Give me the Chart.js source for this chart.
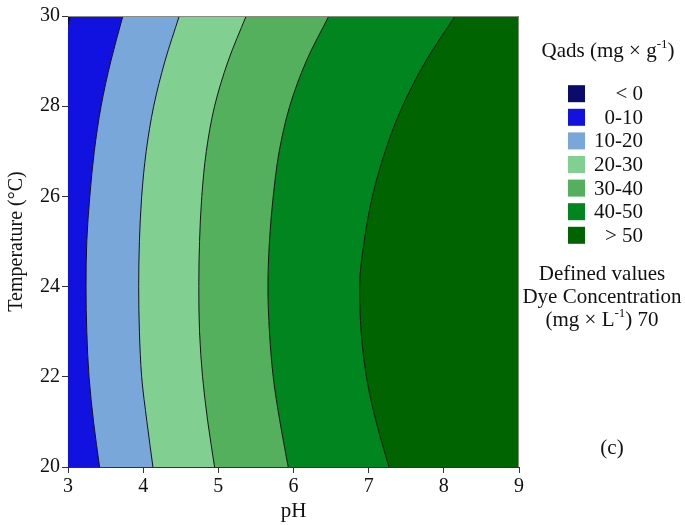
<!DOCTYPE html>
<html>
<head>
<meta charset="utf-8">
<script src="https://cdn.jsdelivr.net/npm/chart.js@4.4.1/dist/chart.umd.min.js"></script>
<style>
  html, body { margin: 0; padding: 0; background: #ffffff; }
  #wrap { width: 685px; height: 525px; }
</style>
</head>
<body>
<div id="wrap"><canvas id="c" width="685" height="525"></canvas></div>
<script>
// Temperature levels (°C) at which each iso-Qads contour is sampled
const tempLevels = [30, 29, 28, 27, 26, 25, 24, 23, 22, 21, 20];

// pH position of each contour line at the temperatures above
const contour10 = [3.73, 3.57, 3.44, 3.35, 3.29, 3.25, 3.24, 3.25, 3.28, 3.34, 3.42];
const contour20 = [4.48, 4.29, 4.14, 4.04, 3.98, 3.95, 3.94, 3.95, 3.98, 4.05, 4.13];
const contour30 = [5.37, 5.13, 4.95, 4.84, 4.78, 4.75, 4.74, 4.75, 4.79, 4.86, 4.95];
const contour40 = [6.47, 6.17, 5.95, 5.81, 5.73, 5.68, 5.66, 5.68, 5.73, 5.82, 5.93];
const contour50 = [8.15, 7.76, 7.45, 7.22, 7.05, 6.94, 6.88, 6.90, 6.97, 7.10, 7.27];

// The zero contour only clips the top-left corner
const cornerTemps = [30, 29.8];
const contour0 = [3.03, 3.00];

// Legend classes and their fill colours
const legendLabels = ['< 0', '0-10', '10-20', '20-30', '30-40', '40-50', '> 50'];
const bandColors = ['#0b0b6e', '#1212e0', '#7aa7da', '#82cf92', '#54b05c', '#00851f', '#006500'];

// Axis ticks
const phTicks = [3, 4, 5, 6, 7, 8, 9];
const tempTicks = [20, 22, 24, 26, 28, 30];

const PH_MIN = phTicks[0];
const PH_MAX = phTicks[phTicks.length - 1];

const SERIF = '"Liberation Serif", "Times New Roman", serif';

function toPoints(phs, temps) {
  return phs.map((ph, i) => ({ x: ph, y: temps[i] }));
}

function contourSet(phs, temps, fill, color, withLine) {
  return {
    data: toPoints(phs, temps),
    fill: fill,
    backgroundColor: color,
    borderColor: '#111111',
    borderWidth: withLine ? 1 : 0,
    pointRadius: 0,
    cubicInterpolationMode: 'monotone'
  };
}

// Frame on the top and right sides, plus the legend and side notes
const decorations = {
  id: 'decorations',
  afterDatasetsDraw(chart) {
    const { ctx, chartArea: a } = chart;
    ctx.save();
    ctx.strokeStyle = '#8a8a80';
    ctx.lineWidth = 1;
    ctx.beginPath();
    ctx.moveTo(a.left, a.top + 0.5);
    ctx.lineTo(a.right - 0.5, a.top + 0.5);
    ctx.lineTo(a.right - 0.5, a.bottom);
    ctx.stroke();
    ctx.restore();
  },
  afterDraw(chart) {
    const ctx = chart.ctx;
    ctx.save();
    ctx.fillStyle = '#111111';

    // text with an optional raised superscript part, centred on cx
    const rich = (parts, cx, y, size) => {
      const main = size + 'px ' + SERIF;
      const sup = Math.round(size * 0.6) + 'px ' + SERIF;
      let total = 0;
      parts.forEach(p => { ctx.font = p.sup ? sup : main; total += ctx.measureText(p.t).width; });
      let x = cx - total / 2;
      ctx.textAlign = 'left';
      ctx.textBaseline = 'alphabetic';
      parts.forEach(p => {
        ctx.font = p.sup ? sup : main;
        ctx.fillText(p.t, x, p.sup ? y - size * 0.42 : y);
        x += ctx.measureText(p.t).width;
      });
    };

    rich([{ t: 'Qads (mg × g' }, { t: '-1', sup: true }, { t: ')' }], 608, 57, 21);

    // legend swatches and right-aligned class labels
    const top0 = 93.7, step = 23.6;
    legendLabels.forEach((lab, i) => {
      const cy = top0 + i * step;
      ctx.fillStyle = bandColors[i];
      ctx.fillRect(568, cy - 8.5, 17, 17);
      ctx.fillStyle = '#111111';
      ctx.font = '21px ' + SERIF;
      ctx.textAlign = 'right';
      ctx.textBaseline = 'middle';
      ctx.fillText(lab, 643, cy + 1);
    });

    ctx.font = '21px ' + SERIF;
    ctx.textAlign = 'center';
    ctx.textBaseline = 'middle';
    ctx.fillText('Defined values', 602, 274);
    ctx.fillText('Dye Concentration', 602, 297);
    rich([{ t: '(mg × L' }, { t: '-1', sup: true }, { t: ') 70' }], 602, 326, 21);

    ctx.font = '21px ' + SERIF;
    ctx.textAlign = 'center';
    ctx.textBaseline = 'middle';
    ctx.fillText('(c)', 612, 448);
    ctx.restore();
  }
};

new Chart(document.getElementById('c'), {
  type: 'line',
  data: {
    datasets: [
      contourSet(contour0, cornerTemps, { value: PH_MIN }, bandColors[0], true),
      contourSet(contour10, tempLevels, { value: PH_MIN }, bandColors[1], true),
      contourSet(contour20, tempLevels, 1, bandColors[2], true),
      contourSet(contour30, tempLevels, 2, bandColors[3], true),
      contourSet(contour40, tempLevels, 3, bandColors[4], true),
      contourSet(contour50, tempLevels, 4, bandColors[5], true),
      contourSet(contour50, tempLevels, { value: PH_MAX }, bandColors[6], false)
    ]
  },
  options: {
    indexAxis: 'y',
    responsive: false,
    animation: false,
    events: [],
    layout: { padding: { left: 0, top: 16, right: 166, bottom: 0 } },
    plugins: {
      legend: { display: false },
      tooltip: { enabled: false },
      filler: { propagate: false }
    },
    scales: {
      x: {
        type: 'linear',
        min: PH_MIN,
        max: PH_MAX,
        z: 1,
        afterBuildTicks: s => { s.ticks = phTicks.map(v => ({ value: v })); },
        afterFit: s => { s.height = 58; },
        grid: { drawOnChartArea: false, tickLength: 6, color: '#333333' },
        border: { display: true, color: '#333333', width: 1 },
        ticks: { color: '#111111', padding: 2, font: { family: SERIF, size: 20 } },
        title: {
          display: true, text: 'pH', color: '#111111',
          font: { family: SERIF, size: 21, lineHeight: 1.2 },
          padding: { top: 0, bottom: 1 }
        }
      },
      y: {
        type: 'linear',
        min: tempTicks[0],
        max: tempTicks[tempTicks.length - 1],
        z: 1,
        afterBuildTicks: s => { s.ticks = tempTicks.map(v => ({ value: v })); },
        afterFit: s => { s.width = 68; },
        grid: { drawOnChartArea: false, tickLength: 6, color: '#333333' },
        border: { display: true, color: '#333333', width: 1 },
        ticks: { color: '#111111', padding: 2, font: { family: SERIF, size: 20 } },
        title: {
          display: true, text: 'Temperature (°C)', color: '#111111',
          font: { family: SERIF, size: 20, lineHeight: 1.2 },
          padding: { top: 5, bottom: 0 }
        }
      }
    }
  },
  plugins: [decorations]
});
</script>
</body>
</html>
